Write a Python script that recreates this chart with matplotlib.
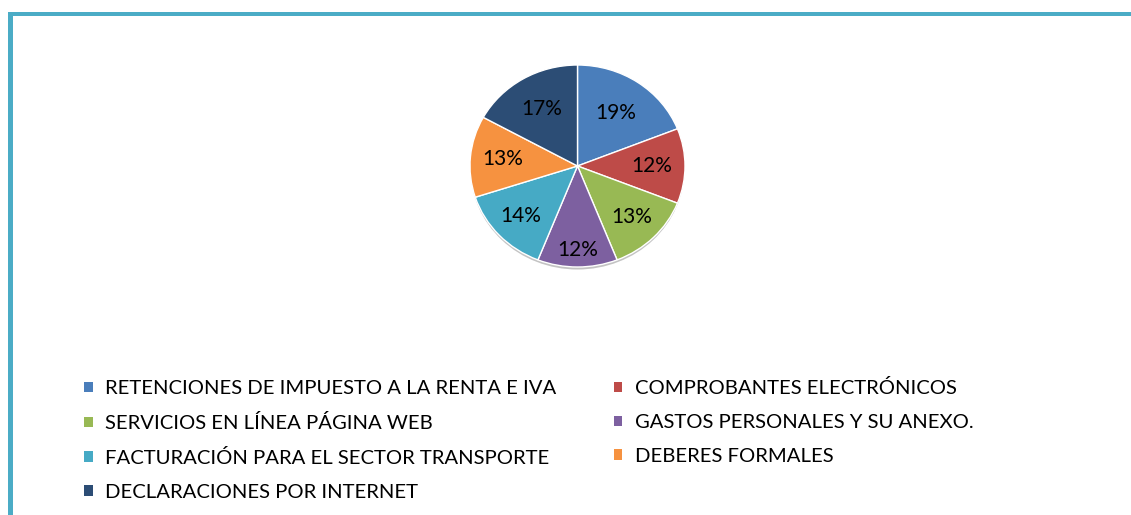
import matplotlib
matplotlib.use("Agg")
import matplotlib.pyplot as plt
from matplotlib.patches import Rectangle, Ellipse
import numpy as np

categories = [
    "RETENCIONES DE IMPUESTO A LA RENTA E IVA",
    "COMPROBANTES ELECTRÓNICOS",
    "SERVICIOS EN LÍNEA PÁGINA WEB",
    "GASTOS PERSONALES Y SU ANEXO.",
    "FACTURACIÓN PARA EL SECTOR TRANSPORTE",
    "DEBERES FORMALES",
    "DECLARACIONES POR INTERNET",
]
values = [19, 12, 13, 12, 14, 13, 17]

colors = ["#4A7EBB", "#BE4B48", "#98B954", "#7D60A0", "#46AAC5", "#F69240", "#2C4D75"]
label_dist = [0.64, 0.69, 0.71, 0.83, 0.72, 0.70, 0.66]

W, H = 1131, 515
fig = plt.figure(figsize=(W / 100, H / 100), dpi=100)
fig.patch.set_facecolor("white")
plt.rcParams["font.family"] = ["Lato", "DejaVu Sans"]

# border lines (top and left)
border = "#4BACC6"
fig.add_artist(Rectangle((8 / W, 0), 5 / W, (H - 12) / H, transform=fig.transFigure,
                         facecolor=border, edgecolor="none"))
fig.add_artist(Rectangle((8 / W, (H - 16) / H), 1 - 8 / W, 4 / H, transform=fig.transFigure,
                         facecolor=border, edgecolor="none"))

cx, cy, rx, ry = 577.5, 166, 107.5, 101
ax = fig.add_axes([(cx - rx) / W, (H - cy - ry - 6) / H, 2 * rx / W, (2 * ry + 6) / H])
# soft shadow under the pie
ax.add_patch(Ellipse((0, -0.03), 1.99, 1.99, facecolor="#555555", alpha=0.35,
                     edgecolor="none", zorder=0))
wedges, texts = ax.pie(values, colors=colors, startangle=90, counterclock=False,
                       wedgeprops=dict(edgecolor="white", linewidth=1, zorder=1))
ax.set_aspect("auto")
ax.set_xlim(-1, 1)
ax.set_ylim(-1 - 6 / ry, 1)

total = sum(values)
for w, v, d in zip(wedges, values, label_dist):
    ang = np.deg2rad((w.theta1 + w.theta2) / 2)
    ax.text(d * np.cos(ang), d * np.sin(ang), f"{round(100 * v / total)}%",
            ha="center", va="center", fontsize=15, color="black", zorder=3)

order = [0, 2, 4, 6, 1, 3, 5]
handles = [Rectangle((0, 0), 1, 1, facecolor=colors[i], edgecolor="none") for i in order]
labels = [categories[i] for i in order]
leg = fig.legend(handles, labels, ncol=2, loc="upper left",
                 bbox_to_anchor=(66 / W, 1 - 361 / H), frameon=False,
                 fontsize=14.6, handlelength=0.42, handleheight=0.42,
                 handletextpad=0.6, columnspacing=2.85, labelspacing=0.83)

fig.savefig("out.png", dpi=100)
